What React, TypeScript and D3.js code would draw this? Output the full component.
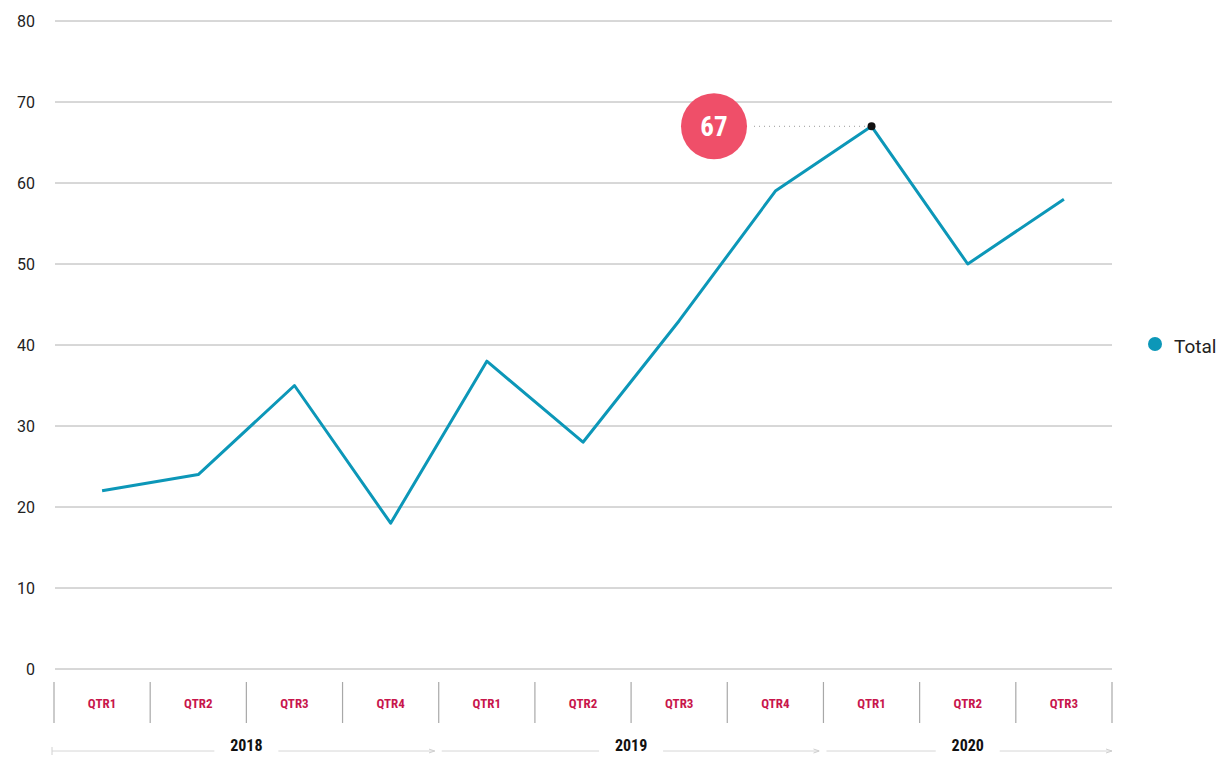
import React from "react";
import * as d3 from "d3";

// quarterly totals, 2018 QTR1 .. 2020 QTR3
const quarters = ["QTR1", "QTR2", "QTR3", "QTR4", "QTR1", "QTR2", "QTR3", "QTR4", "QTR1", "QTR2", "QTR3"];
const totals = [22, 24, 35, 18, 38, 28, 43, 59, 67, 50, 58];
const years = ["2018", "2019", "2020"];
const yearQuarterCounts = [4, 4, 3];
const yTicks = [0, 10, 20, 30, 40, 50, 60, 70, 80];
const seriesName = "Total";
const peakIndex = 8;

const W = 1218, H = 757;
const lineColor = "#0c97b8";
const qtrColor = "#c8164c";

export default function App() {
  const idx = quarters.map((_, i) => i);
  const x = d3.scaleBand<number>().domain(idx).range([54, 1112]).padding(0);
  const y = d3.scaleLinear().domain([0, 80]).range([669, 21]);
  const cx = (i: number) => (x(i) as number) + x.bandwidth() / 2;

  const line = d3.line<number>()
    .x((_, i) => cx(i))
    .y((d) => y(d));

  // year spans
  let start = 0;
  const spans = years.map((yr, k) => {
    const s = start;
    start += yearQuarterCounts[k];
    const x0 = x(s) as number;
    const x1 = (x(start - 1) as number) + x.bandwidth();
    return { yr, x0, x1, last: k === years.length - 1 };
  });

  const peakX = cx(peakIndex);
  const peakY = y(totals[peakIndex]);
  const bubbleX = 714;

  return (
    <svg width={W} height={H} style={{ position: "absolute", left: 0, top: 0 }}
      fontFamily="Roboto, sans-serif">
      <defs>
        <marker id="arr" viewBox="0 0 6 6" refX="6" refY="3" markerWidth="6" markerHeight="6" orient="auto">
          <path d="M0,1 L6,3 L0,5" fill="none" stroke="#cfcfcf" strokeWidth={1} />
        </marker>
      </defs>
      {yTicks.map((t) => (
        <g key={t}>
          <line x1={55} x2={1112} y1={y(t)} y2={y(t)} stroke="#b0b0b0" strokeWidth={1} />
          <text x={35} y={y(t)} dy="0.35em" textAnchor="end" fontSize={16} fill="#222">{t}</text>
        </g>
      ))}

      {/* category separators */}
      {d3.range(quarters.length + 1).map((i) => {
        const xx = i < quarters.length ? (x(i) as number) : 1112;
        return <line key={i} x1={xx} x2={xx} y1={682} y2={723} stroke="#a8a8a8" strokeWidth={1.2} />;
      })}
      {quarters.map((q, i) => (
        <text key={i} x={cx(i)} y={703} dy="0.35em" textAnchor="middle" fontSize={13}
          fontWeight={700} fill={qtrColor} style={{ fontStretch: "condensed" }}>{q}</text>
      ))}

      {/* year spans */}
      {spans.map((s, k) => {
        const mid = (s.x0 + s.x1) / 2;
        const l0 = k === 0 ? s.x0 - 2 : s.x0 + 3;
        const l1 = s.last ? s.x1 : s.x1 - 4;
        return (
          <g key={s.yr}>
            {k === 0 && <line x1={l0} x2={l0} y1={747} y2={755} stroke="#d0d0d0" />}
            <line x1={l0} x2={mid - 32} y1={751} y2={751} stroke="#d6d6d6" strokeWidth={1} />
            <line x1={mid + 32} x2={l1} y1={751} y2={751} stroke="#d6d6d6" strokeWidth={1}
              markerEnd="url(#arr)" />
            <text x={mid} y={751} textAnchor="middle" fontSize={16} fontWeight={700}
              fill="#111" style={{ fontStretch: "condensed" }}>{s.yr}</text>
          </g>
        );
      })}

      <path d={line(totals) || ""} fill="none" stroke={lineColor} strokeWidth={3}
        strokeLinejoin="round" />

      {/* peak annotation */}
      <line x1={bubbleX + 40} x2={peakX - 4} y1={peakY} y2={peakY} stroke="#999"
        strokeWidth={1} strokeDasharray="1 4" />
      <circle cx={peakX} cy={peakY} r={4} fill="#111" />
      <circle cx={bubbleX} cy={peakY} r={33} fill="#ef4f69" />
      <text x={bubbleX} y={peakY} dy="0.36em" textAnchor="middle" fontSize={27} fontWeight={700}
        fill="#fff" style={{ fontStretch: "condensed" }}>{totals[peakIndex]}</text>

      {/* legend */}
      <circle cx={1155} cy={344} r={7} fill={lineColor} />
      <text x={1174} y={346} dy="0.35em" fontSize={19} fill="#222">{seriesName}</text>
    </svg>
  );
}
